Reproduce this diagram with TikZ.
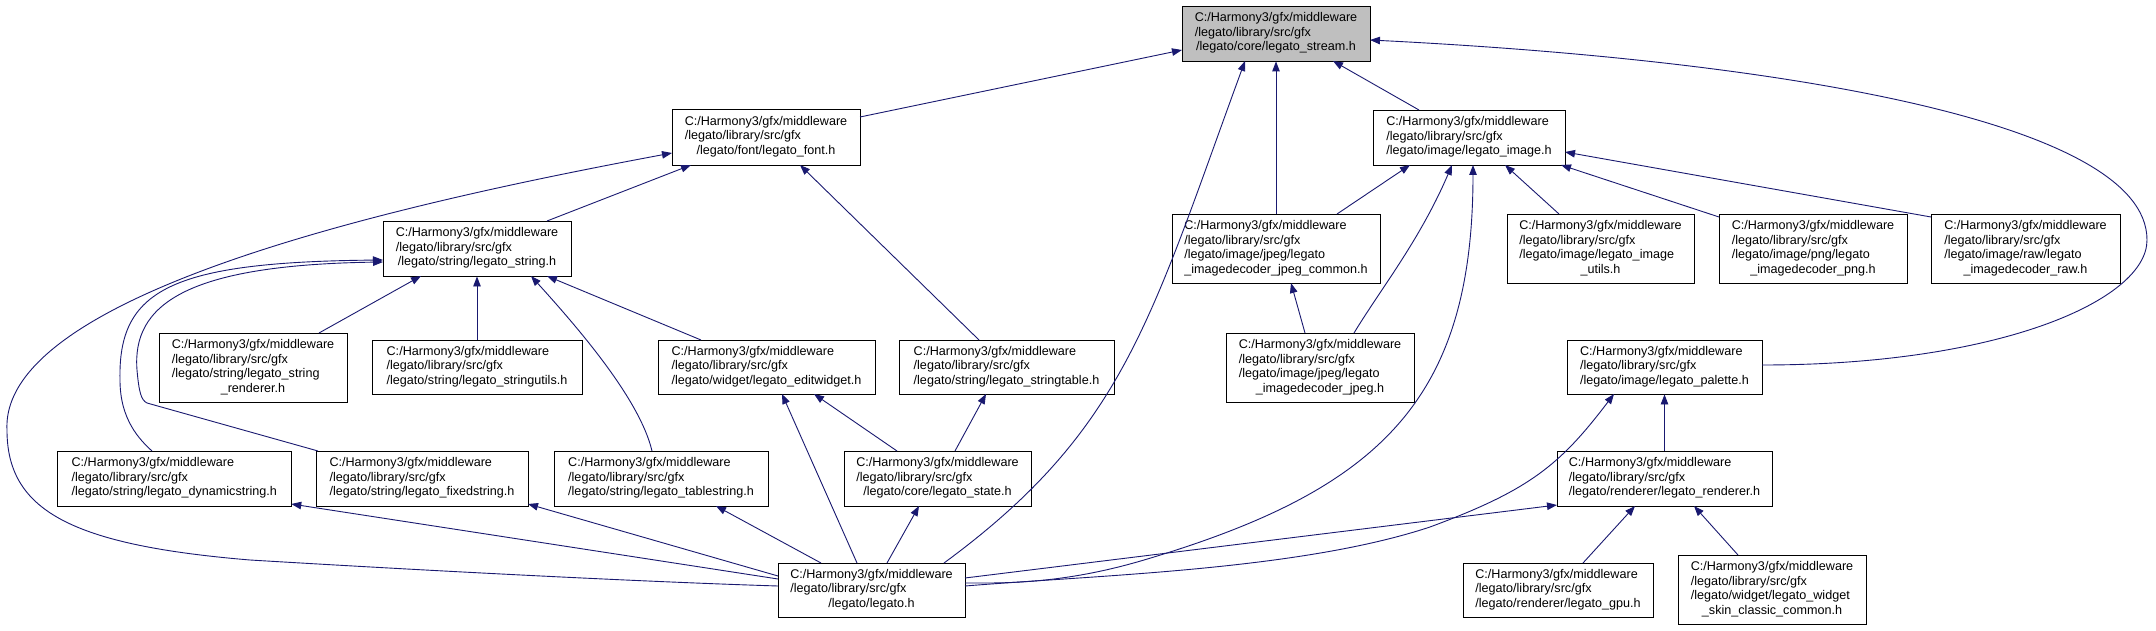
\documentclass[tikz,border=0pt]{standalone}
\usepackage{fontspec}
\setmainfont{Liberation Sans}
\usetikzlibrary{arrows.meta,shadows}
\definecolor{edgecol}{HTML}{191970}
\definecolor{grayfill}{HTML}{BFBFBF}
\newcommand\hdr{C:/Harmony3/gfx/middleware\\/legato/library/src/gfx\\}
\newcommand\lbl[2]{\begin{tabular}{@{}l@{}}\hdr #1\multicolumn{1}{@{}c@{}}{#2}\end{tabular}}
\begin{document}
\begin{tikzpicture}[x=1pt,y=-1pt,
  box/.style={draw=black, line width=0.9pt, fill=white, inner sep=0pt, font=\fontsize{12.6}{14.5}\selectfont,
    drop shadow={shadow xshift=1.2pt, shadow yshift=-1.2pt, opacity=1, fill=gray!75}},
  edge/.style={draw=edgecol, line width=0.9pt, {Triangle[length=10pt,width=7.5pt]}-}]
\useasboundingbox (0,0) rectangle (2156,631);
\fill[white] (0,0) rectangle (2156,631);
% nodes
\node[box, fill=grayfill, minimum width=188pt, minimum height=55pt] (stream) at (1276,33.5) {\lbl{}{/legato/core/legato\_stream.h}};
\node[box, minimum width=188pt, minimum height=56pt] (font) at (766,137) {\lbl{}{/legato/font/legato\_font.h}};
\node[box, minimum width=192pt, minimum height=55pt] (image) at (1469,137.5) {\lbl{}{/legato/image/legato\_image.h}};
\node[box, minimum width=188pt, minimum height=55pt] (string) at (477,248.5) {\lbl{}{/legato/string/legato\_string.h}};
\node[box, minimum width=208pt, minimum height=69pt] (jpegc) at (1276,248.5) {\lbl{/legato/image/jpeg/legato\\}{\_imagedecoder\_jpeg\_common.h}};
\node[box, minimum width=187pt, minimum height=69pt] (utils) at (1600.5,248.5) {\lbl{/legato/image/legato\_image\\}{\_utils.h}};
\node[box, minimum width=188pt, minimum height=69pt] (png) at (1813,248.5) {\lbl{/legato/image/png/legato\\}{\_imagedecoder\_png.h}};
\node[box, minimum width=189pt, minimum height=69pt] (raw) at (2025.5,248.5) {\lbl{/legato/image/raw/legato\\}{\_imagedecoder\_raw.h}};
\node[box, minimum width=188pt, minimum height=69pt] (srend) at (253,367.5) {\lbl{/legato/string/legato\_string\\}{\_renderer.h}};
\node[box, minimum width=210pt, minimum height=54pt] (sutils) at (477,367) {\lbl{}{/legato/string/legato\_stringutils.h}};
\node[box, minimum width=217pt, minimum height=54pt] (edit) at (766.5,367) {\lbl{}{/legato/widget/legato\_editwidget.h}};
\node[box, minimum width=215pt, minimum height=54pt] (stable) at (1006.5,367) {\lbl{}{/legato/string/legato\_stringtable.h}};
\node[box, minimum width=188pt, minimum height=69pt] (jpeg) at (1320,367.5) {\lbl{/legato/image/jpeg/legato\\}{\_imagedecoder\_jpeg.h}};
\node[box, minimum width=195pt, minimum height=54pt] (palette) at (1664.5,367) {\lbl{}{/legato/image/legato\_palette.h}};
\node[box, minimum width=234pt, minimum height=55pt] (dyn) at (174.25,478.5) {\lbl{}{/legato/string/legato\_dynamicstring.h}};
\node[box, minimum width=212pt, minimum height=55pt] (fixed) at (422,478.5) {\lbl{}{/legato/string/legato\_fixedstring.h}};
\node[box, minimum width=214pt, minimum height=55pt] (tstr) at (661,478.5) {\lbl{}{/legato/string/legato\_tablestring.h}};
\node[box, minimum width=187pt, minimum height=55pt] (state) at (937.5,478.5) {\lbl{}{/legato/core/legato\_state.h}};
\node[box, minimum width=215pt, minimum height=55pt] (renderer) at (1664.5,478.5) {\lbl{}{/legato/renderer/legato\_renderer.h}};
\node[box, minimum width=187pt, minimum height=54pt] (legato) at (871.5,590) {\lbl{}{/legato/legato.h}};
\node[box, minimum width=190pt, minimum height=54pt] (gpu) at (1558,590) {\lbl{}{/legato/renderer/legato\_gpu.h}};
\node[box, minimum width=188pt, minimum height=69pt] (skin) at (1772,589.5) {\lbl{/legato/widget/legato\_widget\\}{\_skin\_classic\_common.h}};
% edges (arrow at included file)
\draw[edge] ([shift={(-94,16.5)}]stream.center) -- ([shift={(94,-20)}]font.center);
\draw[edge] ([shift={(-31,27.5)}]stream.center) .. controls (1150,320) and (1125,430) .. ([shift={(72.5,-27)}]legato.center);
\draw[edge] (stream.south) -- (jpegc.north);
\draw[edge] ([shift={(57,27.5)}]stream.center) -- ([shift={(-50,-27.5)}]image.center);
\draw[edge] ([shift={(94,6.5)}]stream.center) .. controls (1770,60) and (2147,120) .. (2147,240) .. controls (2147,300) and (2000,365) .. ([shift={(97.5,-2)}]palette.center);
\draw[edge] ([shift={(-75,28)}]font.center) -- ([shift={(70,-27.5)}]string.center);
\draw[edge] ([shift={(34,28)}]font.center) -- ([shift={(-27.5,-27)}]stable.center);
\draw[edge] ([shift={(-94,16)}]font.center) .. controls (420,200) and (0,290) .. (7,430) .. controls (7,510) and (70,545) .. (250,560) .. controls (450,572) and (650,582) .. ([shift={(-93.5,-4)}]legato.center);
\draw[edge] ([shift={(-56,27.5)}]string.center) -- ([shift={(66,-34.5)}]srend.center);
\draw[edge] (string.south) -- (sutils.north);
\draw[edge] ([shift={(70,27.5)}]string.center) -- ([shift={(-65.5,-27)}]edit.center);
\draw[edge] ([shift={(54,27.5)}]string.center) .. controls (580,330) and (640,400) .. ([shift={(-9,-27.5)}]tstr.center);
\draw[edge] ([shift={(-94,11.5)}]string.center) .. controls (170,262) and (118,290) .. (120,380) .. controls (120,420) and (140,440) .. ([shift={(-22.25,-27.5)}]dyn.center);
\draw[edge] ([shift={(-94,13.5)}]string.center) .. controls (185,265) and (132,305) .. (137,370) .. controls (139,392) and (141,400) .. (147,403) -- ([shift={(-104,-27.5)}]fixed.center);
\draw[edge] ([shift={(15.5,27)}]edit.center) -- ([shift={(-14.5,-27)}]legato.center);
\draw[edge] ([shift={(47.5,27)}]edit.center) -- ([shift={(-40.5,-27.5)}]state.center);
\draw[edge] ([shift={(-20.5,27)}]stable.center) -- ([shift={(17.5,-27.5)}]state.center);
\draw[edge] ([shift={(-18.5,27.5)}]state.center) -- ([shift={(15.5,-27)}]legato.center);
\draw[edge] ([shift={(55,27.5)}]tstr.center) -- ([shift={(-50.5,-27)}]legato.center);
\draw[edge] ([shift={(106,25.5)}]fixed.center) -- ([shift={(-93.5,-14)}]legato.center);
\draw[edge] ([shift={(117,25.5)}]dyn.center) -- ([shift={(-93.5,-11)}]legato.center);
\draw[edge] ([shift={(4,27.5)}]image.center) .. controls (1473,400) and (1380,490) .. (1144,560) .. controls (1060,585) and (1000,583) .. ([shift={(93.5,-7)}]legato.center);
\draw[edge] ([shift={(-50.5,27)}]palette.center) .. controls (1560,465) and (1530,490) .. (1430,527) .. controls (1300,570) and (1100,575) .. ([shift={(93.5,-4)}]legato.center);
\draw[edge] ([shift={(-107.5,26.5)}]renderer.center) -- ([shift={(93.5,-12)}]legato.center);
\draw[edge] ([shift={(15,34.5)}]jpegc.center) -- ([shift={(-15,-34.5)}]jpeg.center);
\draw[edge] ([shift={(-17,27.5)}]image.center) .. controls (1420,240) and (1380,290) .. ([shift={(34,-34.5)}]jpeg.center);
\draw[edge] ([shift={(-59,27.5)}]image.center) -- ([shift={(61,-34.5)}]jpegc.center);
\draw[edge] ([shift={(36,27.5)}]image.center) -- ([shift={(-41.5,-34.5)}]utils.center);
\draw[edge] ([shift={(92,27.5)}]image.center) -- ([shift={(-94,-31.5)}]png.center);
\draw[edge] ([shift={(96,14.5)}]image.center) -- ([shift={(-94.5,-31.5)}]raw.center);
\draw[edge] (palette.south) -- (renderer.north);
\draw[edge] ([shift={(-29.5,27.5)}]renderer.center) -- ([shift={(25,-27)}]gpu.center);
\draw[edge] ([shift={(29.5,27.5)}]renderer.center) -- ([shift={(-34,-34.5)}]skin.center);
\end{tikzpicture}
\end{document}
